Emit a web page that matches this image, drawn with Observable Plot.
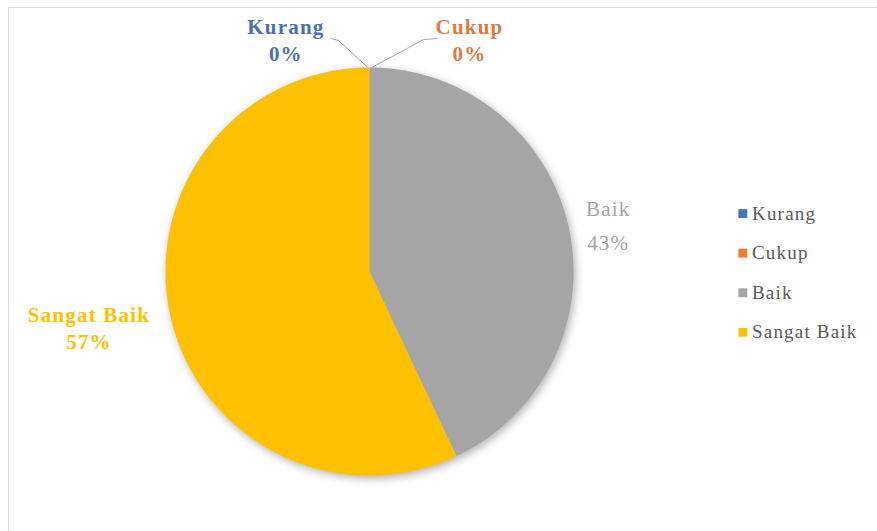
<!DOCTYPE html>
<html><head><meta charset="utf-8">
<script src="https://cdn.jsdelivr.net/npm/d3@7"></script>
<script src="https://cdn.jsdelivr.net/npm/@observablehq/plot@0.6"></script>
<style>
html,body{margin:0;padding:0;background:#fff;}
#wrap{position:relative;width:877px;height:531px;overflow:hidden;background:#fff;}
#border{position:absolute;left:8px;top:7px;width:900px;height:600px;border:1.5px solid #d9d9d9;box-sizing:border-box;}
#chart{position:absolute;left:0;top:0;}
#chart svg text, #chart svg tspan{font-family:"Liberation Serif","Times New Roman",serif !important;letter-spacing:1.2px;}
</style></head><body>
<div id="wrap"><div id="border"></div><div id="chart"></div></div>
<script>
// ---- data ----
const categories = ["Kurang", "Cukup", "Baik", "Sangat Baik"];
const values = [0, 0, 43, 57];
const percentLabels = ["0%", "0%", "43%", "57%"];
const colors = ["#4472C4", "#ED7D31", "#A5A5A5", "#FFC000"];
const labelColors = ["#4a6fb8", "#e07a42", "#a5a5a5", "#ffc000"];

// ---- layout (data units: pie radius = 1, centre = 0,0) ----
const labelPos = [
  {x: -0.41, y: 1.14, bold: true},
  {x: 0.49, y: 1.14, bold: true},
  {x: 1.17, y: 0.24, bold: false},
  {x: -1.375, y: -0.27, bold: true}
];
const leaderLines = [
  [{x: -0.19, y: 1.142}, {x: -0.152, y: 1.132}, {x: -0.008, y: 1.0}],
  [{x: 0.333, y: 1.142}, {x: 0.265, y: 1.137}, {x: 0.012, y: 1.0}]
];
const legendX = 1.83, legendY0 = 0.284, legendStep = -0.194;

const arcs = d3.pie().sort(null)(values);
const slicePts = [];
arcs.forEach((a, i) => {
  if (a.endAngle - a.startAngle <= 0) return;
  const n = Math.max(2, Math.ceil((a.endAngle - a.startAngle) / (Math.PI / 180)));
  slicePts.push({cat: categories[i], x: 0, y: 0});
  for (let k = 0; k <= n; k++) {
    const t = a.startAngle + (a.endAngle - a.startAngle) * k / n;
    slicePts.push({cat: categories[i], x: Math.sin(t), y: Math.cos(t)});
  }
  slicePts.push({cat: categories[i], x: 0, y: 0});
});
const shadowPts = slicePts.filter(d => d.x !== 0 || d.y !== 0);

const labels = categories.map((c, i) => ({
  cat: c, text: c + "\n" + percentLabels[i], color: labelColors[i], ...labelPos[i]
}));
const leaders = leaderLines.flatMap((pts, i) => pts.map(p => ({id: i, ...p})));
const legendRows = categories.map((c, i) => ({cat: c, x: legendX, y: legendY0 + i * legendStep}));

const font = "Liberation Serif";
const chart = Plot.plot({
  width: 877, height: 531, margin: 0,
  x: {domain: [-1, 1], range: [165, 573], axis: null},
  y: {domain: [-1, 1], range: [475, 67], axis: null},
  color: {domain: categories, range: colors},
  marks: [
    Plot.line(shadowPts, {x: "x", y: "y", fill: "#000", fillOpacity: 0.3, stroke: "none", dx: 2, dy: 3}),
    ...categories.map((c, i) => Plot.line(slicePts.filter(d => d.cat === c), {x: "x", y: "y", fill: colors[i], stroke: "none"})),
    Plot.line(leaders, {x: "x", y: "y", z: "id", stroke: "#a6a6a6", strokeWidth: 1}),
    Plot.text(labels.filter(d => d.bold), {x: "x", y: "y", text: "text", fill: "color", fontSize: 21, fontWeight: "bold", lineHeight: 1.3, fontFamily: font}),
    Plot.text(labels.filter(d => !d.bold), {x: "x", y: "y", text: "text", fill: "color", fontSize: 21, lineHeight: 1.6, fontFamily: font}),
    Plot.dot(legendRows, {x: "x", y: "y", fill: "cat", symbol: "square", r: 5}),
    Plot.text(legendRows, {x: legendX + 0.045, y: "y", text: "cat", textAnchor: "start", fill: "#595959", fontSize: 19, fontFamily: font})
  ]
});
const svg = d3.select(chart);
const filt = svg.insert("defs", ":first-child").append("filter").attr("id", "pieblur")
  .attr("x", "-20%").attr("y", "-20%").attr("width", "140%").attr("height", "140%");
filt.append("feGaussianBlur").attr("stdDeviation", 4);
svg.select("g[aria-label=line]").attr("filter", "url(#pieblur)");
document.getElementById("chart").appendChild(chart);
</script>
</body></html>
